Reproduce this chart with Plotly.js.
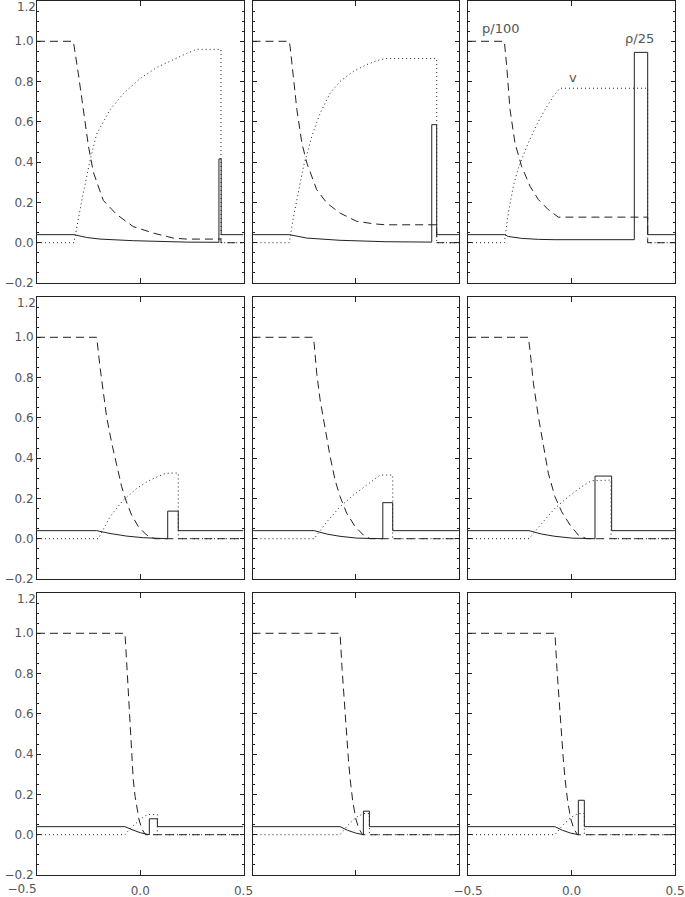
<!DOCTYPE html>
<html>
<head>
<meta charset="utf-8">
<script src="https://cdn.plot.ly/plotly-3.0.1.min.js"></script>
<style>
  html, body { margin: 0; padding: 0; background: #fff; }
  #plot { width: 685px; height: 897px; }
</style>
</head>
<body>
<div id="plot"></div>
<script>
// one entry per panel, read left to right, top to bottom
// pressure / 100 (dashed)
let presX = [
  [-0.5, -0.324, -0.300, -0.276, -0.251, -0.227, -0.179, -0.114, -0.034, 0.063, 0.160, 0.225, 0.391, 0.391, 0.5],
  [-0.5, -0.322, -0.318, -0.301, -0.285, -0.261, -0.237, -0.189, -0.140, -0.076, 0.005, 0.086, 0.142, 0.392, 0.392, 0.5],
  [-0.5, -0.3245, -0.313, -0.297, -0.273, -0.241, -0.200, -0.160, -0.112, -0.064, 0.368, 0.368, 0.5],
  [-0.5, -0.211, -0.195, -0.179, -0.163, -0.138, -0.114, -0.090, -0.069, -0.042, -0.009, 0.031, 0.071, 0.5],
  [-0.5, -0.208, -0.2015, -0.189, -0.1725, -0.148, -0.124, -0.100, -0.076, -0.0435, -0.003, 0.037, 0.069, 0.5],
  [-0.5, -0.2085, -0.2005, -0.184, -0.160, -0.136, -0.112, -0.080, -0.0475, -0.007, 0.033, 0.073, 0.5],
  [-0.5, -0.074, -0.066, -0.058, -0.050, -0.042, -0.034, -0.025, -0.017, -0.005, 0.010, 0.025, 0.5],
  [-0.5, -0.076, -0.066, -0.056, -0.046, -0.036, -0.027, -0.015, 0.000, 0.015, 0.033, 0.5],
  [-0.5, -0.080, -0.070, -0.060, -0.050, -0.040, -0.031, -0.019, -0.004, 0.011, 0.029, 0.5]
];
let presY = [
  [1, 1, 0.84, 0.66, 0.48, 0.35, 0.21, 0.14, 0.08, 0.048, 0.023, 0.018, 0.018, 0, 0],
  [1, 1, 0.975, 0.81, 0.66, 0.495, 0.396, 0.263, 0.197, 0.147, 0.106, 0.094, 0.089, 0.089, 0, 0],
  [1, 1, 0.876, 0.661, 0.495, 0.379, 0.280, 0.214, 0.164, 0.127, 0.127, 0, 0],
  [1, 1, 0.854, 0.722, 0.606, 0.474, 0.358, 0.258, 0.189, 0.118, 0.060, 0.018, 0, 0],
  [1, 1, 0.970, 0.821, 0.689, 0.540, 0.407, 0.291, 0.209, 0.126, 0.060, 0.018, 0, 0],
  [1, 1, 0.937, 0.772, 0.606, 0.457, 0.325, 0.209, 0.134, 0.068, 0.018, 0, 0],
  [1, 1, 0.86, 0.70, 0.54, 0.40, 0.275, 0.19, 0.14, 0.07, 0.025, 0, 0],
  [1, 1, 0.82, 0.66, 0.52, 0.38, 0.275, 0.17, 0.08, 0.03, 0, 0],
  [1, 1, 0.82, 0.66, 0.52, 0.38, 0.275, 0.17, 0.08, 0.03, 0, 0]
];

// velocity (dotted)
let velX = [
  [-0.5, -0.321, -0.283, -0.243, -0.211, -0.146, -0.082, -0.001, 0.080, 0.160, 0.225, 0.273, 0.391, 0.391, 0.5],
  [-0.5, -0.322, -0.301, -0.277, -0.253, -0.237, -0.213, -0.172, -0.124, -0.076, -0.011, 0.053, 0.102, 0.142, 0.392, 0.392, 0.5],
  [-0.5, -0.3245, -0.305, -0.281, -0.257, -0.241, -0.209, -0.168, -0.128, -0.088, -0.056, 0.368, 0.368, 0.5],
  [-0.5, -0.203, -0.1465, -0.082, -0.017, 0.047, 0.112, 0.144, 0.184, 0.184, 0.5],
  [-0.5, -0.2015, -0.140, -0.076, -0.011, 0.053, 0.118, 0.179, 0.179, 0.5],
  [-0.5, -0.2053, -0.144, -0.080, -0.015, 0.049, 0.097, 0.191, 0.191, 0.5],
  [-0.5, -0.074, -0.040, 0.000, 0.020, 0.038, 0.083, 0.083, 0.5],
  [-0.5, -0.076, -0.040, 0.000, 0.037, 0.066, 0.066, 0.5],
  [-0.5, -0.080, -0.044, -0.004, 0.033, 0.062, 0.062, 0.5]
];
let velY = [
  [0, 0, 0.21, 0.41, 0.54, 0.66, 0.74, 0.815, 0.87, 0.91, 0.94, 0.96, 0.96, 0, 0],
  [0, 0, 0.131, 0.263, 0.379, 0.437, 0.528, 0.644, 0.743, 0.801, 0.851, 0.884, 0.904, 0.914, 0.914, 0, 0],
  [0, 0, 0.147, 0.280, 0.371, 0.412, 0.495, 0.586, 0.661, 0.727, 0.767, 0.767, 0, 0],
  [0, 0, 0.109, 0.192, 0.250, 0.291, 0.321, 0.326, 0.326, 0, 0],
  [0, 0, 0.084, 0.159, 0.217, 0.267, 0.316, 0.316, 0, 0],
  [0, 0, 0.076, 0.151, 0.209, 0.258, 0.288, 0.291, 0, 0],
  [0, 0, 0.04, 0.076, 0.092, 0.10, 0.10, 0, 0],
  [0, 0, 0.045, 0.085, 0.105, 0.105, 0, 0],
  [0, 0, 0.045, 0.085, 0.105, 0.105, 0, 0]
];

// density / 25 (solid)
let rhoX = [
  [-0.5, -0.321, -0.260, -0.195, -0.034, 0.128, 0.225, 0.381, 0.381, 0.392, 0.392, 0.5],
  [-0.5, -0.322, -0.237, -0.076, 0.142, 0.368, 0.368, 0.392, 0.392, 0.5],
  [-0.5, -0.3245, -0.305, -0.241, -0.160, -0.080, 0.3035, 0.3035, 0.368, 0.368, 0.5],
  [-0.5, -0.211, -0.1465, -0.066, 0.015, 0.133, 0.133, 0.184, 0.184, 0.5],
  [-0.5, -0.2015, -0.140, -0.076, 0.005, 0.131, 0.131, 0.179, 0.179, 0.5],
  [-0.5, -0.2053, -0.144, -0.080, 0.001, 0.1135, 0.1135, 0.194, 0.194, 0.5],
  [-0.5, -0.074, -0.040, 0.000, 0.044, 0.044, 0.083, 0.083, 0.5],
  [-0.5, -0.076, -0.040, 0.000, 0.037, 0.037, 0.066, 0.066, 0.5],
  [-0.5, -0.080, -0.044, -0.004, 0.033, 0.033, 0.062, 0.062, 0.5]
];
let rhoY = [
  [0.04, 0.04, 0.026, 0.018, 0.010, 0.005, 0.003, 0.002, 0.416, 0.416, 0.04, 0.04],
  [0.04, 0.04, 0.023, 0.012, 0.005, 0.003, 0.586, 0.586, 0.04, 0.04],
  [0.04, 0.04, 0.031, 0.0215, 0.0166, 0.015, 0.015, 0.945, 0.945, 0.04, 0.04],
  [0.04, 0.04, 0.026, 0.013, 0.005, 0, 0.137, 0.137, 0.04, 0.04],
  [0.04, 0.04, 0.023, 0.012, 0.003, 0, 0.179, 0.179, 0.04, 0.04],
  [0.04, 0.04, 0.023, 0.012, 0.003, 0, 0.311, 0.311, 0.04, 0.04],
  [0.04, 0.04, 0.025, 0.010, 0, 0.079, 0.079, 0.04, 0.04],
  [0.04, 0.04, 0.022, 0.008, 0, 0.117, 0.117, 0.04, 0.04],
  [0.04, 0.04, 0.022, 0.008, 0, 0.171, 0.171, 0.04, 0.04]
];

// tick labels
let yTickVals = [-0.2, 0, 0.2, 0.4, 0.6, 0.8, 1.0, 1.2];
let yTickText = ['\u22120.2', '0.0', '0.2', '0.4', '0.6', '0.8', '1.0', ''];
let xTickVals = [-0.5, 0, 0.5];
let xTickText = ['', '0.0', '0.5'];

// panel placement (px inside the plot area)
let colDom = [[0, 206.5 / 638], [215.5 / 638, 422 / 638], [431 / 638, 1]];
let rowDom = [[592 / 874, 1], [296 / 874, 578 / 874], [0, 282 / 874]];

let lineCol = '#222';
let txtFont = {family: 'DejaVu Sans, sans-serif', size: 12, color: '#555'};

let data = [];
let layout = {
  width: 685,
  height: 897,
  margin: {l: 37, r: 10, t: 1, b: 22},
  paper_bgcolor: '#fff',
  plot_bgcolor: '#fff',
  showlegend: false,
  font: txtFont,
  annotations: []
};

for (let k = 0; k < 9; k++) {
  let row = Math.floor(k / 3), col = k % 3;
  let xa = 'x' + (k + 1), ya = 'y' + (k + 1);
  let common = {xaxis: xa, yaxis: ya, mode: 'lines', hoverinfo: 'skip'};

  data.push(Object.assign({x: rhoX[k], y: rhoY[k], line: {color: lineCol, width: 1}}, common));
  data.push(Object.assign({x: presX[k], y: presY[k], line: {color: lineCol, width: 1, dash: '8px,5px'}}, common));
  data.push(Object.assign({x: velX[k], y: velY[k], line: {color: lineCol, width: 1, dash: '1px,3px'}}, common));

  layout['xaxis' + (k + 1)] = {
    domain: colDom[col],
    anchor: ya,
    range: [-0.5, 0.5],
    tickmode: 'array',
    tickvals: xTickVals,
    ticktext: col === 0 ? xTickText : ['\u22120.5', '0.0', '0.5'],
    ticks: 'inside',
    ticklen: 5,
    tickcolor: lineCol,
    ticklabelstandoff: 5,
    ticklabeloverflow: 'allow',
    showline: true,
    linecolor: lineCol,
    linewidth: 1,
    mirror: 'ticks',
    showgrid: false,
    zeroline: false,
    showticklabels: row === 2 && col !== 1,
    tickfont: txtFont,
    fixedrange: true
  };
  layout['yaxis' + (k + 1)] = {
    domain: rowDom[row],
    anchor: xa,
    range: [-0.2, 1.2],
    tickmode: 'array',
    tickvals: yTickVals,
    ticktext: yTickText,
    ticks: 'inside',
    ticklen: 4,
    tickcolor: lineCol,
    minor: {tickmode: 'linear', tick0: 0, dtick: 0.05, ticks: 'inside', ticklen: 2, tickcolor: lineCol},
    showline: true,
    linecolor: lineCol,
    linewidth: 1,
    mirror: 'ticks',
    showgrid: false,
    zeroline: false,
    showticklabels: col === 0,
    tickfont: txtFont,
    fixedrange: true
  };
}

// the top "1.2" label sits a little below its tick, one overlay axis per row
for (let r = 0; r < 3; r++) {
  let base = 3 * r + 1, id = 10 + r;
  layout['yaxis' + id] = {
    overlaying: 'y' + base,
    anchor: 'x' + base,
    range: [-0.2, 1.2],
    tickmode: 'array',
    tickvals: [1.2],
    ticktext: ['1.2'],
    ticks: '',
    ticklabelshift: 6,
    ticklabeloverflow: 'allow',
    showline: false,
    showgrid: false,
    zeroline: false,
    tickfont: txtFont,
    fixedrange: true
  };
  data.push({x: [], y: [], xaxis: 'x' + base, yaxis: 'y' + id, mode: 'lines', hoverinfo: 'skip'});
}

// the leftmost "-0.5" label is pushed left, as in the original
layout.xaxis10 = {
  overlaying: 'x7',
  anchor: 'y7',
  range: [-0.5, 0.5],
  tickmode: 'array',
  tickvals: [-0.5],
  ticktext: ['\u22120.5'],
  ticks: '',
  ticklabelshift: -15,
  ticklabelstandoff: 5,
  ticklabeloverflow: 'allow',
  showline: false,
  showgrid: false,
  zeroline: false,
  tickfont: txtFont,
  fixedrange: true
};
data.push({x: [], y: [], xaxis: 'x10', yaxis: 'y7', mode: 'lines', hoverinfo: 'skip'});

// curve labels in the top-right panel
let labelFont = {family: 'DejaVu Sans, sans-serif', size: 13, color: '#555'};
layout.annotations.push(
  {xref: 'x3', yref: 'y3', x: -0.345, y: 1.063, text: 'p/100', showarrow: false, font: labelFont},
  {xref: 'x3', yref: 'y3', x: 0.007, y: 0.82, text: 'v', showarrow: false, font: labelFont},
  {xref: 'x3', yref: 'y3', x: 0.328, y: 1.013, text: 'ρ/25', showarrow: false, font: labelFont}
);

Plotly.newPlot('plot', data, layout, {staticPlot: true});
</script>
</body>
</html>
